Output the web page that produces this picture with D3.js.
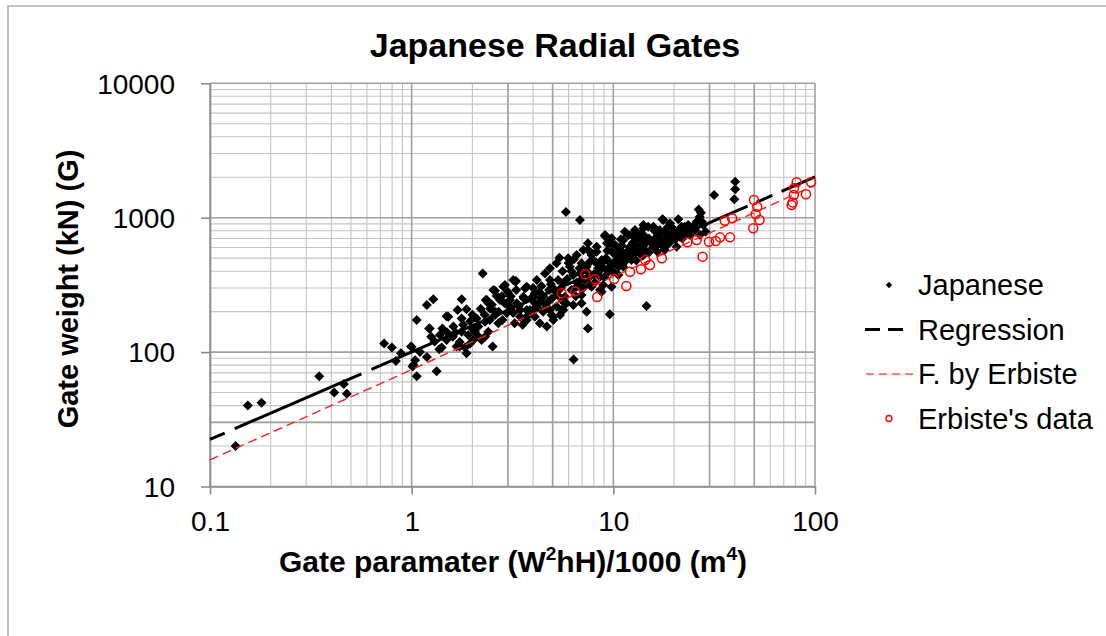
<!DOCTYPE html>
<html>
<head>
<meta charset="utf-8">
<script src="https://cdn.jsdelivr.net/npm/d3@7"></script>
<style>
    body { margin: 0; background: #fff; }
    svg { display: block; font-family: "Liberation Sans", Arial, sans-serif; }
</style>
</head>
<body>
<script>
"use strict";

// ----------------------------------------
//  Data
// ----------------------------------------

// Japanese gates: [gate parameter, gate weight]
let japanese = [
    [0.134,20],[0.154,40],[0.180,42],[0.348,66],[0.413,50],[0.461,58],[0.477,49],
    [0.730,116],[0.798,108],[0.835,86],[0.885,98],[0.993,110],[1.02,80],[1.06,66],
    [1.33,72],[1.19,92],[1.06,173],[1.19,224],[1.28,247],[1.22,150],[1.37,105],
    [1.77,247],[2.25,385],[1.69,206],[1.87,208],[1.49,185],[1.42,150],[1.87,98],
    [1.73,110],[2.52,110],[3.07,244],[3.27,334],[2.85,307],[2.54,290],[2.36,244],
    [2.31,130],[2.02,123],
    [3.29,338],[2.59,286],[2.64,261],[2.74,244],[2.33,244],[2.40,231],[1.23,150],
    [1.52,183],[1.77,178],[1.61,155],[1.38,134],[1.49,123],[1.77,142],[1.91,134],
    [1.95,116],[1.73,119],[2.10,178],[2.14,155],[2.06,142],[2.31,168],[2.44,173],
    [2.59,189],[2.69,164],[2.40,142],[2.22,123],[2.96,195],[3.07,218],[3.32,231],
    [3.45,206],[3.72,206],[3.65,178],[3.19,195],[1.00,109],[1.04,87],[1.01,78],
    [1.41,108],[1.67,110],[1.84,108],
    [9.08,731],[9.8,652],[9.33,568],[10.8,543],[7.8,528],[6.96,458],[5.40,504],
    [5.97,499],[6.09,432],[4.58,385],[4.17,344],[4.85,344],[5.04,298],[5.64,325],
    [6.33,375],[7.37,432],[8.27,458],[8.91,471],[9.62,432],[10.2,471],[11.2,458],
    [8.59,364],[9.45,396],[8.91,316],[8.75,281],[6.96,266],[6.83,307],[7.66,316],
    [3.72,307],[3.58,258],[3.86,206],[3.72,173],[4.08,183],[4.49,200],[4.94,189],
    [5.44,189],[5.23,218],[4.75,237],[4.32,237],[4.08,274],[5.04,173],[5.65,206],
    [6.33,224],[6.96,231],[7.37,200],[5.32,344],[5.75,258],[5.23,458],[8.27,608],
    [7.49,575],[6.58,528],
    [5.82,1102],[6.83,962],[6.35,88],[7.48,150],[9.6,191],[14.6,220],[40.2,1853],
    [40.2,1626],[39.8,1371],[31.6,1476],[26.5,1153],[27.2,1089],[26.8,1016],
    [17.5,973],[21.0,973],[28.7,787],[27.5,933],
    [17.7,962],[22.6,857],[18.7,857],[17.0,811],[15.8,857],[14.9,857],[14.1,834],
    [12.8,811],[11.9,743],[11.2,683],[12.6,722],[14.4,722],[16.4,722],[18.4,703],
    [19.8,743],[21.4,722],[24.0,811],[25.4,811],[27.9,883],[26.9,743],[20.6,608],
    [17.7,608],[15.8,608],[14.1,591],[13.0,575],[12.1,559],[11.6,484],[10.4,484],
    [11.2,432],[10.0,396],[10.6,375],[9.8,307],[9.6,646],[10.2,627],
    [16.7,646],[19.1,910],[23.5,883],
    [14.1,883],[12.6,766],[16.4,787],[18.4,627],[19.8,766],[21.8,857],[25.9,933],
    [24.0,743],[18.0,575],[13.5,543],[11.4,787],[10.8,575],[9.8,703],[9.3,646],
    [8.75,484],[9.1,743],[8.27,559],[7.66,471],[7.8,543],[7.10,575],[6.38,490],
    [7.48,646],[4.85,421],[3.65,298],[3.19,344],[2.90,316],[3.45,183],[3.24,164],
    [3.99,206],[4.85,206],[5.04,183],[4.32,164],[4.68,155],[5.55,206],[5.85,231],
    [6.58,307],[7.22,344],[7.8,307],[8.59,290],[9.3,408],[10.0,458],[10.6,432],
    [11.6,513],[12.3,484],[6.83,385],
    [2.82,173],[3.10,206],[3.55,160],[3.80,190],[4.20,215],[4.60,225],[4.95,250],
    [5.30,265],[5.60,240],[6.20,290],[6.60,330],[7.00,350],[7.40,400],[8.00,380],
    [8.40,420],[8.80,430],[9.20,500],[10.5,600],[11.0,620],[11.8,560],[12.5,650],
    [13.2,700],[14.0,660],[15.0,700],[16.0,680],[17.0,760],[18.0,800],[19.5,850],
    [21.0,800],[22.0,700],[23.0,780],[25.0,870],[13.0,480],[14.0,520],[15.0,550],
    [16.5,560],[2.0,190],[2.2,210],[2.5,225],[2.8,260],[3.0,280],[3.3,290],
    [3.6,250],[4.0,300],[4.4,310],[4.8,290],[1.6,130],[1.8,160],[2.0,150],
    [2.3,190],[2.6,200],[2.9,230],[1.3,120],[1.5,140],[1.1,100],[1.25,130],
    [4.1,230],[4.5,260],[4.9,320],[5.2,280],[5.5,300],[5.9,350],[6.2,400],
    [6.5,260],[6.8,420],[7.1,300],[7.6,360],[8.1,330],[8.5,400],[9.0,360],
    [9.5,470],[10.3,520],[10.9,480],[11.4,540],[12.0,600],[12.4,530],[12.9,620],
    [13.6,610],[14.4,640],[15.3,660],[16.2,620],[17.4,700],[18.9,740],[20.3,690],
    [21.9,780],[23.1,840],[3.4,220],[3.9,250],[4.3,280],[2.7,200],[3.1,260],
    [2.45,210],[1.95,170],[1.65,140],[2.15,130],[5.6,400],[6.0,460],[8.0,480],
    [9.8,560],[10.9,690],[13.7,760],[16.0,800],[19.0,650],[22.5,760]
];

// Erbiste's data points
let erbiste = [
    [5.55,274],[6.47,283],[7.26,379],[8.11,348],[8.32,257],[10.1,350],[11.6,310],
    [12.1,396],[13.7,413],[14.4,484],[15.2,445],[17.4,499],[23.3,656],[25.9,683],
    [27.7,513],[29.8,663],[32.2,671],[33.8,714],[37.9,714],[35.7,950],[38.8,991],
    [49.4,834],[49.8,1355],[51.7,1208],[50.8,1066],[53.1,962],[76.6,1242],
    [77.5,1300],[78.5,1476],[78.7,1655],[81.1,1834],[90.2,1493],[95.7,1834]
];

// Regression line and Erbiste's formula
let regX = [0.1, 100];
let regY = [22.4, 2010];
let formX = [0.1, 1, 10, 100];
let formY = [15.8, 74, 364, 1750];

// Axis ticks and extra reference gridlines
let xTicks = [0.1, 1, 10, 100];
let yTicks = [10, 100, 1000, 10000];
let xExtraLines = [3, 5, 30, 50];
let yExtraLines = [30];

let legendNames = ["Japanese", "Regression", "F. by Erbiste", "Erbiste's data"];

// ----------------------------------------
//  Sizing
// ----------------------------------------
let W = 1106, H = 636;
let pLeft = 210, pRight = 815, pTop = 83.3, pBottom = 486.5;

let svg = d3.select("body").append("svg")
    .attr("width", W)
    .attr("height", H);

// outer chart frame (only top and left edges fall inside the picture)
svg.append("rect")
    .attr("x", 8).attr("y", 6)
    .attr("width", W + 50).attr("height", H + 50)
    .attr("fill", "#fff")
    .attr("stroke", "#b0b0b0")
    .attr("stroke-width", 1.5);

// ----------------------------------------
//  Scales
// ----------------------------------------
let x_scale = d3.scaleLog().domain([0.1, 100]).range([pLeft, pRight]);
let y_scale = d3.scaleLog().domain([10, 10000]).range([pBottom, pTop]);

// minor values: 2..9 in every decade
let minorX = [], minorY = [];
[0.1, 1, 10].forEach(function(d){
    for (let i = 2; i <= 9; i++) minorX.push(d * i);
});
[10, 100, 1000].forEach(function(d){
    for (let i = 2; i <= 9; i++) minorY.push(d * i);
});

// ----------------------------------------
//  Gridlines
// ----------------------------------------
let grid = svg.append("g");

grid.selectAll(".vminor").data(minorX).enter().append("line")
    .attr("x1", function(d){ return x_scale(d); })
    .attr("x2", function(d){ return x_scale(d); })
    .attr("y1", pTop).attr("y2", pBottom)
    .attr("stroke", "#c4c4c4").attr("stroke-width", 1.1);

grid.selectAll(".hminor").data(minorY).enter().append("line")
    .attr("y1", function(d){ return y_scale(d); })
    .attr("y2", function(d){ return y_scale(d); })
    .attr("x1", pLeft).attr("x2", pRight)
    .attr("stroke", "#c4c4c4").attr("stroke-width", 1.1);

grid.selectAll(".vmajor").data(xTicks.concat(xExtraLines)).enter().append("line")
    .attr("x1", function(d){ return x_scale(d); })
    .attr("x2", function(d){ return x_scale(d); })
    .attr("y1", pTop).attr("y2", pBottom)
    .attr("stroke", "#a0a0a0").attr("stroke-width", 1.6);

grid.selectAll(".hmajor").data(yTicks.concat(yExtraLines)).enter().append("line")
    .attr("y1", function(d){ return y_scale(d); })
    .attr("y2", function(d){ return y_scale(d); })
    .attr("x1", pLeft).attr("x2", pRight)
    .attr("stroke", "#a0a0a0").attr("stroke-width", 1.6);

// ----------------------------------------
//  Axes
// ----------------------------------------
let xAxis = svg.append("g")
    .attr("transform", "translate(0," + pBottom + ")")
    .call(d3.axisBottom(x_scale).tickValues(xTicks).tickSize(8).tickSizeOuter(0)
        .tickFormat(function(d){ return String(d); }));

let yAxis = svg.append("g")
    .attr("transform", "translate(" + pLeft + ",0)")
    .call(d3.axisLeft(y_scale).tickValues(yTicks).tickSize(9).tickSizeOuter(0)
        .tickFormat(function(d){ return String(d); }));

[xAxis, yAxis].forEach(function(a){
    a.select(".domain").attr("stroke", "#8c8c8c").attr("stroke-width", 1.6);
    a.selectAll(".tick line").attr("stroke", "#8c8c8c").attr("stroke-width", 1.6);
    a.selectAll("text")
        .attr("font-family", "'Liberation Sans', Arial, sans-serif")
        .attr("font-size", 28)
        .attr("fill", "#000");
});
xAxis.selectAll("text").attr("dy", null).attr("y", 44);
yAxis.selectAll("text").attr("x", -35).attr("dy", "0.35em");

// ----------------------------------------
//  Series
// ----------------------------------------
let diamond = d3.symbol().type(d3.symbolSquare).size(50);

svg.append("g").selectAll("path")
    .data(japanese)
    .enter()
    .append("path")
    .attr("d", diamond)
    .attr("fill", "#000")
    .attr("transform", function(d){
        return "translate(" + x_scale(d[0]) + "," + y_scale(d[1]) + ") rotate(45)";
    });

let line = d3.line()
    .x(function(d){ return x_scale(d[0]); })
    .y(function(d){ return y_scale(d[1]); });

svg.append("path")
    .datum(d3.zip(regX, regY))
    .attr("d", line)
    .attr("fill", "none")
    .attr("stroke", "#000")
    .attr("stroke-width", 3)
    .attr("stroke-dasharray", "16,11,138,11,410,10,17,10,60");

svg.append("path")
    .datum(d3.zip(formX, formY))
    .attr("d", line)
    .attr("fill", "none")
    .attr("stroke", "#ff2020")
    .attr("stroke-width", 1.4)
    .attr("stroke-dasharray", "9,5");

svg.append("g").selectAll("circle")
    .data(erbiste)
    .enter()
    .append("circle")
    .attr("cx", function(d){ return x_scale(d[0]); })
    .attr("cy", function(d){ return y_scale(d[1]); })
    .attr("r", 4.5)
    .attr("fill", "none")
    .attr("stroke", "#ff0000")
    .attr("stroke-width", 1.5);

// ----------------------------------------
//  Titles
// ----------------------------------------
svg.append("text")
    .attr("x", 555).attr("y", 57)
    .attr("text-anchor", "middle")
    .attr("font-size", 34).attr("font-weight", "bold")
    .text("Japanese Radial Gates");

let xt = svg.append("text")
    .attr("x", 513).attr("y", 572)
    .attr("text-anchor", "middle")
    .attr("font-size", 30).attr("font-weight", "bold");
xt.append("tspan").text("Gate paramater (W");
xt.append("tspan").attr("font-size", 19).attr("dy", -12).text("2");
xt.append("tspan").attr("dy", 12).text("hH)/1000 (m");
xt.append("tspan").attr("font-size", 19).attr("dy", -12).text("4");
xt.append("tspan").attr("dy", 12).text(")");

svg.append("text")
    .attr("transform", "translate(78,289) rotate(-90)")
    .attr("text-anchor", "middle")
    .attr("font-size", 29).attr("font-weight", "bold")
    .text("Gate weight (kN) (G)");

// ----------------------------------------
//  Legend
// ----------------------------------------
let legend = svg.append("g");
let rowY = function(i){ return 285 + i * 44.5; };

legend.selectAll("text").data(legendNames).enter().append("text")
    .attr("x", 918)
    .attr("y", function(d, i){ return rowY(i); })
    .attr("dy", "0.35em")
    .attr("font-size", 29)
    .text(function(d){ return d; });

legend.append("path")
    .attr("d", d3.symbol().type(d3.symbolSquare).size(20))
    .attr("transform", "translate(889," + rowY(0) + ") rotate(45)")
    .attr("fill", "#000");

legend.append("line")
    .attr("x1", 865).attr("x2", 906)
    .attr("y1", rowY(1)).attr("y2", rowY(1))
    .attr("stroke", "#000").attr("stroke-width", 3)
    .attr("stroke-dasharray", "15,8");

legend.append("line")
    .attr("x1", 866).attr("x2", 914)
    .attr("y1", rowY(2)).attr("y2", rowY(2))
    .attr("stroke", "#ff5050").attr("stroke-width", 1.5)
    .attr("stroke-dasharray", "8,5");

legend.append("circle")
    .attr("cx", 889).attr("cy", rowY(3))
    .attr("r", 3)
    .attr("fill", "none")
    .attr("stroke", "#ff0000")
    .attr("stroke-width", 1.3);
</script>
</body>
</html>
